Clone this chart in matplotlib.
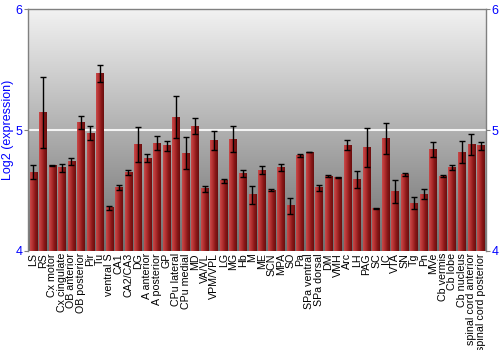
import numpy as np
import matplotlib
matplotlib.use("Agg")
import matplotlib.pyplot as plt
from matplotlib.colors import LinearSegmentedColormap

categories = ["LS", "RS", "Cx motor", "Cx cingulate", "OB anterior", "OB posterior", "Pir", "Tu",
              "ventral S", "CA1", "CA2/CA3", "DG", "A anterior", "A posterior", "GP", "CPu lateral",
              "CPu medial", "MD", "VA/VL", "VPM/VPL", "LG", "MG", "Hb", "M", "ME", "SCN", "MPA", "SO",
              "Pa", "SPa ventral", "SPa dorsal", "DM", "VMH", "Arc", "LH", "PAG", "SC", "IC", "VTA",
              "SN", "Tg", "Pn", "MVe", "Cb vermis", "Cb lobe", "Cb nucleus", "spinal cord anterior",
              "spinal cord posterior"]
values = [4.652, 5.146, 4.704, 4.690, 4.740, 5.061, 4.975, 5.464,
          4.356, 4.525, 4.652, 4.881, 4.768, 4.892, 4.870, 5.108,
          4.809, 5.030, 4.514, 4.912, 4.580, 4.925, 4.641, 4.464, 4.669, 4.503, 4.693, 4.373,
          4.790, 4.818, 4.522, 4.616, 4.605, 4.876, 4.594, 4.856, 4.354, 4.928, 4.492,
          4.633, 4.395, 4.470, 4.840, 4.619, 4.690, 4.818, 4.881, 4.870]
errors = [0.060, 0.294, 0.003, 0.033, 0.030, 0.055, 0.060, 0.070,
          0.014, 0.017, 0.020, 0.148, 0.036, 0.060, 0.040, 0.177,
          0.135, 0.066, 0.025, 0.080, 0.018, 0.110, 0.028, 0.073, 0.036, 0.011, 0.028, 0.064,
          0.011, 0.003, 0.026, 0.008, 0.005, 0.039, 0.070, 0.162, 0.005, 0.130, 0.094,
          0.014, 0.048, 0.044, 0.064, 0.011, 0.022, 0.088, 0.088, 0.033]
y_ticks = [4, 5, 6]

plt.rcParams['font.family'] = ['Liberation Sans', 'DejaVu Sans']

fig = plt.figure(figsize=(5, 3.5), dpi=100)
ax = fig.add_axes([0.056, 0.283, 0.916, 0.691])
ax.set_ylim(4, 6)
x = np.arange(len(categories))
ax.set_xlim(-0.55, len(categories) - 0.45)

# background gradient
bg = LinearSegmentedColormap.from_list("bg", ["#6e6e6e", "#b0b0b0", "#f2f2f2"])
grad = np.linspace(0, 1, 256).reshape(-1, 1)
ax.imshow(grad, cmap=bg, origin="lower", aspect="auto",
          extent=[*ax.get_xlim(), *ax.get_ylim()], zorder=0)
ax.axhline(5, color="#f4f4f4", lw=1.5, zorder=1)

bars = ax.bar(x, np.array(values) - 4, bottom=4, width=0.78, facecolor="none",
              edgecolor="none", zorder=2)
barcmap = LinearSegmentedColormap.from_list("bar", ["#c84a4a", "#b33030", "#8a1818", "#6a0e0e"])
hgrad = np.linspace(0, 1, 64).reshape(1, -1)
for b in bars:
    x0 = b.get_x()
    ax.imshow(hgrad, cmap=barcmap, aspect="auto",
              extent=[x0, x0 + b.get_width(), 4, 4 + b.get_height()], zorder=2)
ax.set_xlim(-0.55, len(categories) - 0.45)
ax.set_ylim(4, 6)

ax.errorbar(x, values, yerr=errors, fmt="none", ecolor="black", elinewidth=1,
            capsize=2.5, capthick=1, zorder=3)

ax.set_xticks(x)
ax.set_xticklabels(categories, rotation=90, fontsize=7.7)
ax.tick_params(axis="x", length=0, pad=1.5)
ax.set_yticks(y_ticks)
ax.set_yticklabels([str(t) for t in y_ticks], color="blue", fontsize=9)
ax.tick_params(axis="y", colors="#808080", labelcolor="blue", length=3, pad=1,
               left=True, right=True, labelleft=True, labelright=True)
ax.set_ylabel("Log2 (expression)", color="blue", fontsize=9, labelpad=1)
for s in ax.spines.values():
    s.set_color("#808080")
    s.set_linewidth(1)
ax.spines["bottom"].set_visible(False)

fig.savefig("out.png", dpi=100)
